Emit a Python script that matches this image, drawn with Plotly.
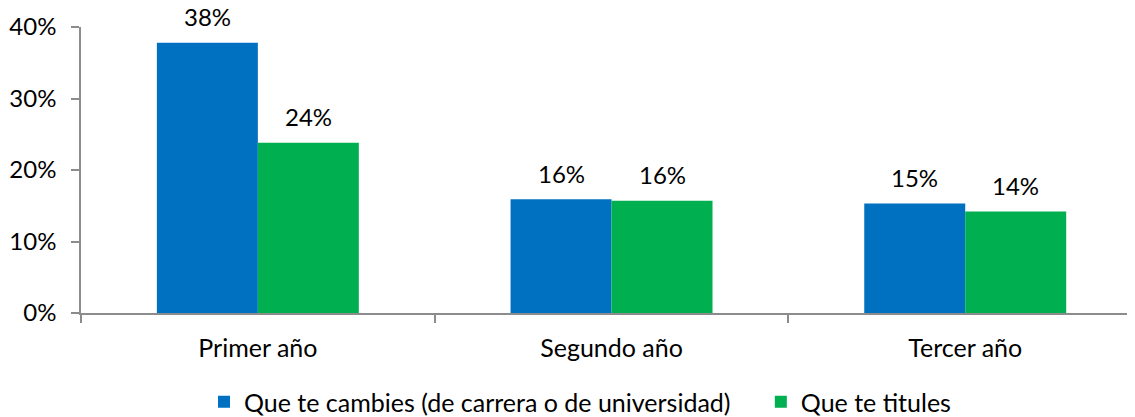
import plotly.graph_objects as go

# Datos
categories = ['Primer año', 'Segundo año', 'Tercer año']
cambies = [37.8, 15.9, 15.3]
titules = [23.8, 15.7, 14.2]
series_names = ['Que te cambies (de carrera o de universidad)', 'Que te titules']
y_ticks = [0, 10, 20, 30, 40]
y_tick_labels = ['0%', '10%', '20%', '30%', '40%']

BLUE = '#0070C0'
GREEN = '#00B050'
AXIS = '#8C8C8C'
FONT = 'Lato'
NUM_SIZE = 24
TXT_SIZE = 25

fig = go.Figure()
fig.add_trace(go.Bar(x=categories, y=cambies, name=series_names[0], legend='legend',
                     marker=dict(color=BLUE, line_width=0)))
fig.add_trace(go.Bar(x=categories, y=titules, name=series_names[1], legend='legend2',
                     marker=dict(color=GREEN, line_width=0)))

# etiquetas de valor encima de cada barra
for values, shift in [(cambies, -50.5), (titules, 50.5)]:
    for cat, val in zip(categories, values):
        fig.add_annotation(x=cat, y=val, text=f'{val:.0f}%', showarrow=False, borderpad=0,
                           xshift=shift, yshift=26, font=dict(family=FONT, size=NUM_SIZE, color='#000000'))

legend_style = dict(orientation='h', xanchor='left', y=-0.31, yanchor='middle',
                    font=dict(family=FONT, size=TXT_SIZE), itemwidth=30, bgcolor='rgba(0,0,0,0)')

# la pagina tiene un margen de 8px en el body, se compensa aqui
fig.update_layout(
    width=1127, height=417,
    margin=dict(l=73, r=0, t=19, b=111),
    plot_bgcolor='white', paper_bgcolor='white',
    barmode='group', bargap=0.429, bargroupgap=0,
    font=dict(family=FONT, size=NUM_SIZE, color='#000000'),
    showlegend=True,
    legend=dict(x=0.1167, **legend_style),
    legend2=dict(x=0.645, **legend_style),
    xaxis=dict(
        range=[-0.5, 2.48], showline=True, linecolor=AXIS, linewidth=1.5,
        ticks='outside', tickson='boundaries', ticklen=8, tickcolor=AXIS, tickwidth=1.5,
        ticklabelstandoff=12, showgrid=False, zeroline=False, automargin=False,
        tickfont=dict(size=TXT_SIZE)
    ),
    yaxis=dict(
        range=[0, 40], tickvals=y_ticks, ticktext=y_tick_labels,
        showline=True, linecolor=AXIS, linewidth=1.5,
        ticks='outside', ticklen=8, tickcolor=AXIS, tickwidth=1.5,
        ticklabelstandoff=10, showgrid=False, zeroline=False, automargin=False
    ),
)

fig.write_html('out.html')
